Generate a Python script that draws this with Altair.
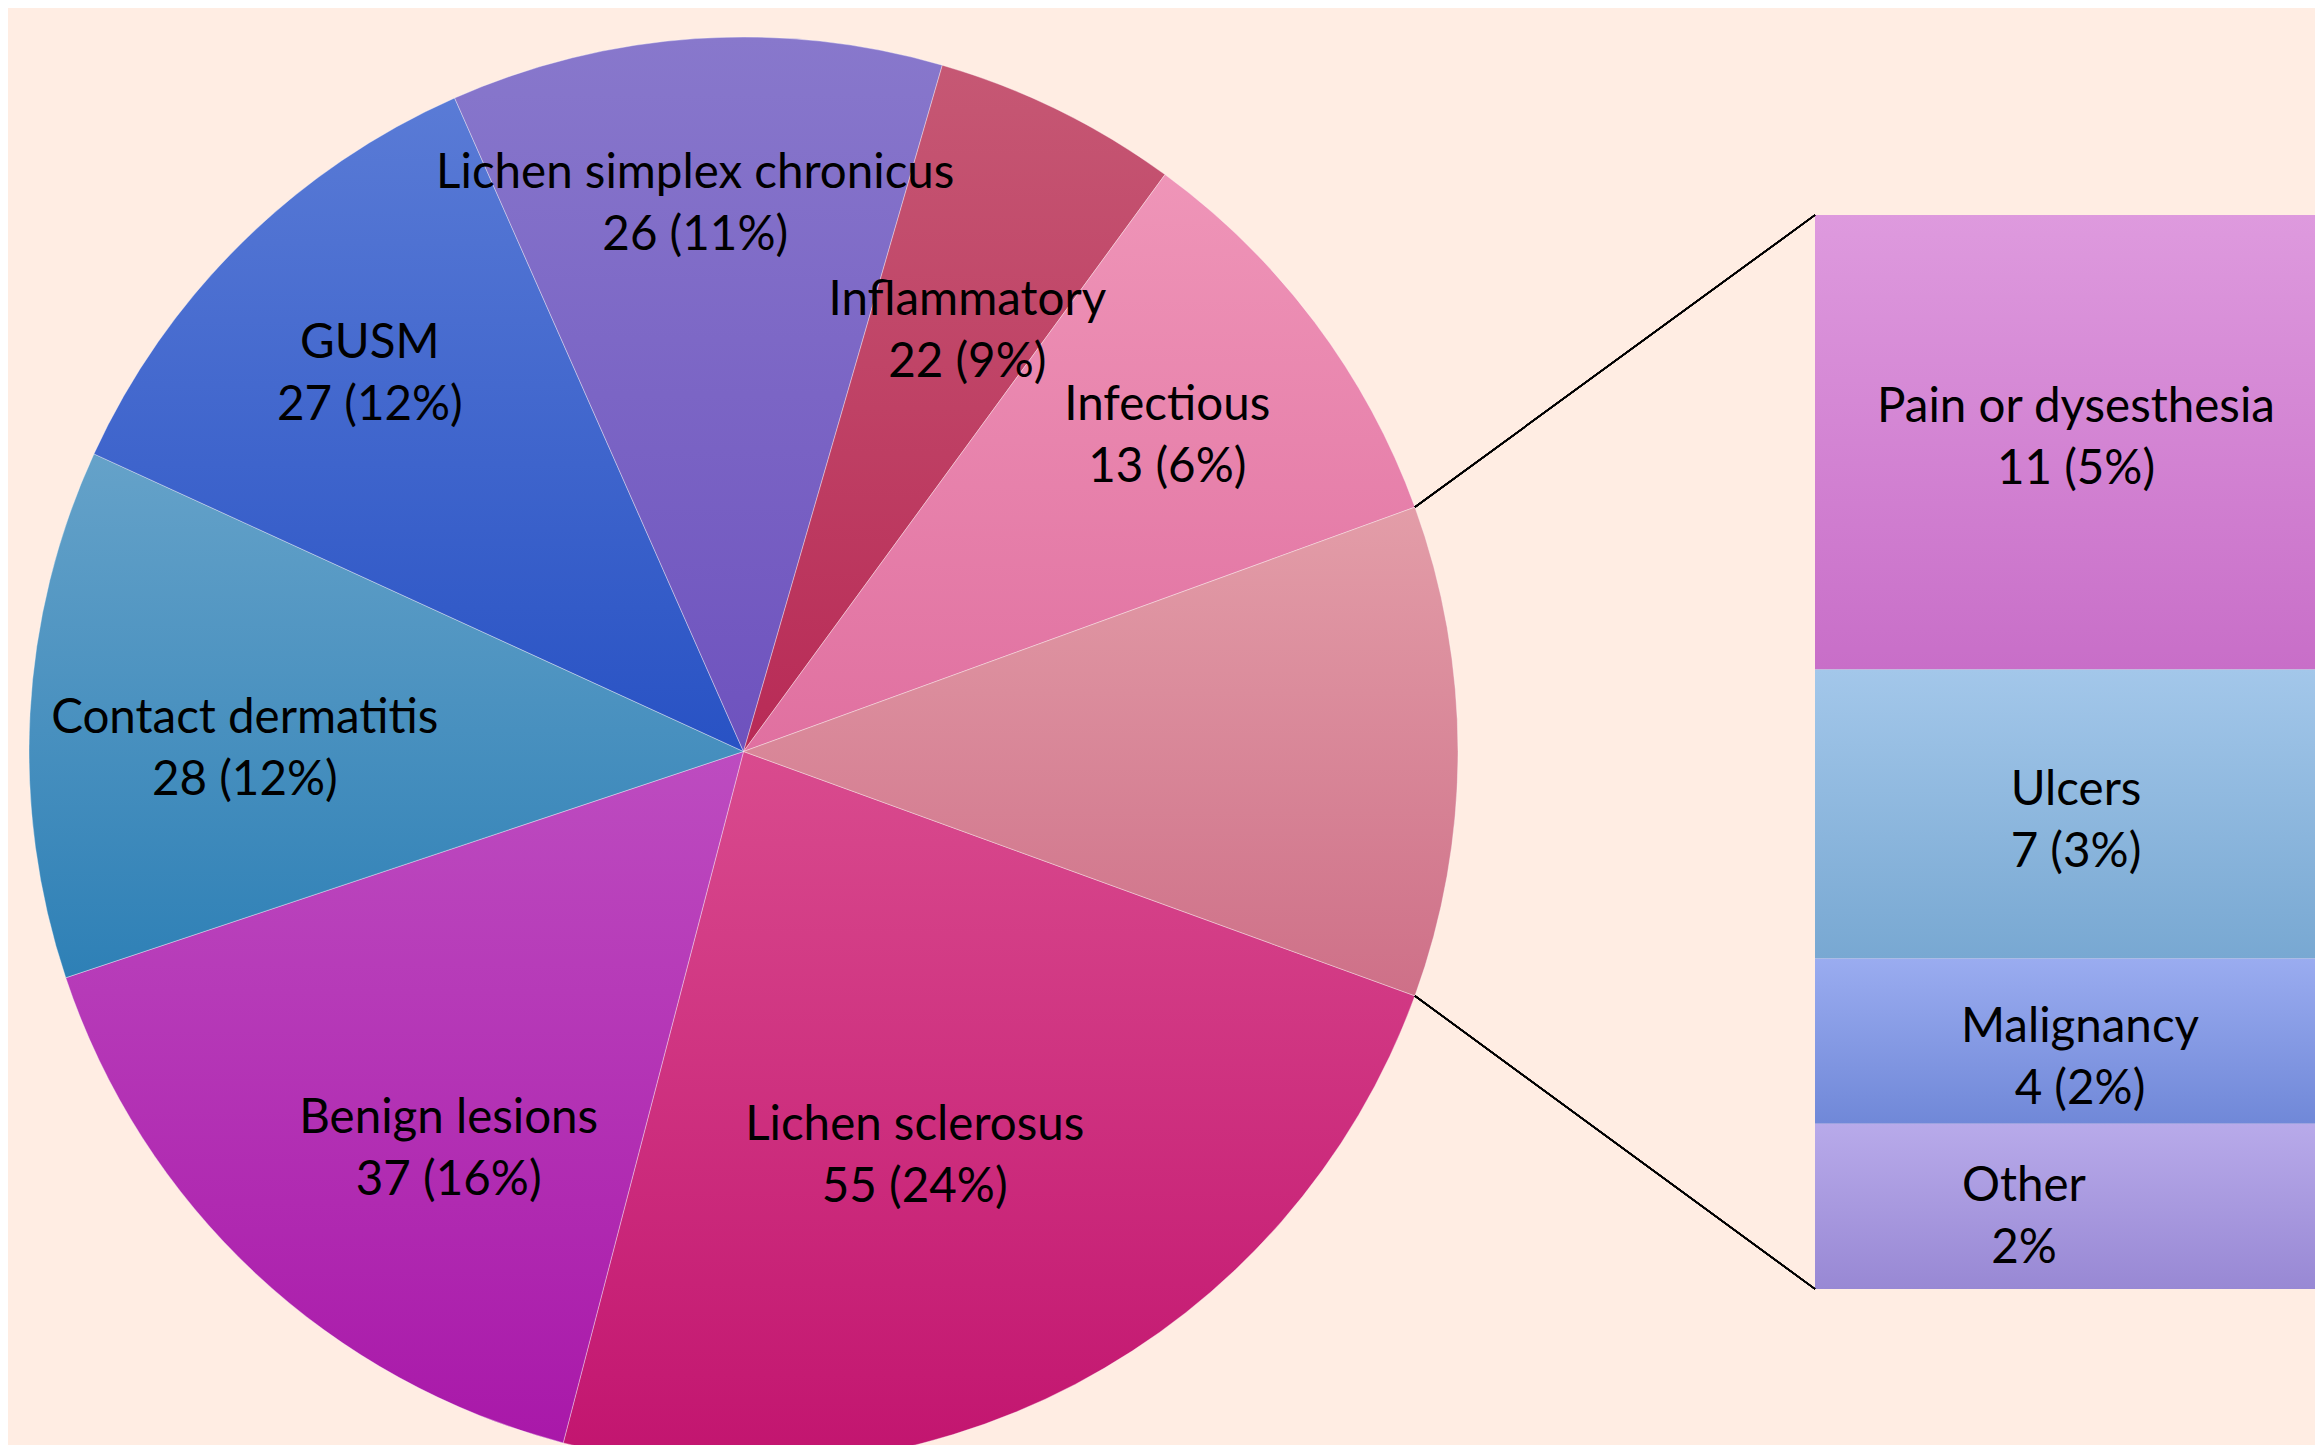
import math
import altair as alt
import pandas as pd

# ---------------- data ----------------
# slice sizes as drawn in the reference (clockwise from the "other" wedge)
pie_cats = ["Lichen sclerosus", "Benign lesions", "Contact dermatitis", "GUSM",
            "Lichen simplex chronicus", "Inflammatory", "Infectious", "Other diagnoses"]
pie_slice_sizes = [55, 37, 28, 27, 26, 13, 22, 26]
# data-label texts as printed in the reference
pie_label_values = ["55 (24%)", "37 (16%)", "28 (12%)", "27 (12%)", "26 (11%)",
                    "22 (9%)", "13 (6%)", ""]
pie_show = [True, True, True, True, True, True, True, False]

bar_cats = ["Pain or dysesthesia", "Ulcers", "Malignancy", "Other"]
bar_counts = [11, 7, 4, 4]
bar_value_labels = ["11 (5%)", "7 (3%)", "4 (2%)", "2%"]

# ---------------- style ----------------
pie_top = ["#D94B8E", "#BD4CC0", "#65A2C9", "#5A7BD6", "#8878CC", "#C65874", "#EF95B8", "#E39DA8"]
pie_bottom = ["#C2146F", "#A918A9", "#2E80B6", "#2852C4", "#6E52BE", "#B82A56", "#E070A0", "#CE7088"]
bar_top = ["#DE9ADE", "#A3C7EA", "#9AACF0", "#B8AAEA"]
bar_bottom = ["#C86EC8", "#78A8D2", "#7088D8", "#9888D4"]
label_r_frac = [0.616, 0.694, 0.698, 0.742, 0.768, 0.666, 0.739, 0.7]
label_nudge_deg = [4.8, -6.6, -2.9, -0.2, -1.2, 1.9, 0.3, 0.0]
bar_label_nudge = [0.07, -0.2, -0.43, -0.29]
bar_label_dx = [0, 0, 4, -52]

BG = "#FFEDE3"
FONT = "Lato"
FS = 47.5
LH = 62
W, H = 2307, 1437
CX, CY, R = 735.5, 743.5, 714.5
BAR_X0, BAR_X1 = 1807, 2330
BAR_TOP, BAR_BOTTOM = 207, 1281
BAR_TEXT_X = 2068

total = sum(pie_slice_sizes)
group = pie_slice_sizes[-1]
start = math.pi / 2 + math.pi * group / total
theta_scale = alt.Scale(domain=[0, total], range=[start, start + 2 * math.pi])


def grad(top, bottom):
    return {"gradient": "linear", "x1": 0, "y1": 0, "x2": 0, "y2": 1,
            "stops": [{"offset": 0, "color": top}, {"offset": 1, "color": bottom}]}


def cond_fill(field, cats, tops, bottoms):
    conds = [{"test": f"datum['{field}'] === '{c}'", "value": grad(t, b)}
             for c, t, b in zip(cats[:-1], tops[:-1], bottoms[:-1])]
    return alt.FillValue(value=grad(tops[-1], bottoms[-1]), condition=conds)


pie_df = pd.DataFrame({
    "cat": pie_cats,
    "size": pie_slice_sizes,
    "order": list(range(len(pie_cats))),
    "label": [[c, v] for c, v in zip(pie_cats, pie_label_values)],
    "show": pie_show,
    "lr": [f * R for f in label_r_frac],
    "nudge": [d / 360 * total for d in label_nudge_deg],
})

bar_df = pd.DataFrame({
    "cat": bar_cats,
    "count": bar_counts,
    "order": list(range(len(bar_cats))),
    "label": [[c, v] for c, v in zip(bar_cats, bar_value_labels)],
    "nudge": bar_label_nudge,
})

pie = alt.Chart(pie_df).mark_arc(outerRadius=R, stroke="#FFFFFF", strokeWidth=1,
                                 strokeOpacity=0.35).encode(
    theta=alt.Theta("size:Q", stack=True, scale=theta_scale),
    order=alt.Order("order:Q"),
    fill=cond_fill("cat", pie_cats, pie_top, pie_bottom),
    x=alt.value(CX),
    y=alt.value(CY),
)

pie_text = alt.Chart(pie_df).transform_window(
    cum="sum(size)", sort=[alt.SortField("order")], frame=[None, 0]
).transform_calculate(
    labpos="datum.cum - datum.size / 2 + datum.nudge"
).transform_filter("datum.show").mark_text(
    font=FONT, fontSize=FS, lineHeight=LH, align="center", baseline="middle",
    color="#000000", dy=-LH / 2
).encode(
    theta=alt.Theta("labpos:Q", stack=False, scale=theta_scale),
    radius=alt.Radius("lr:Q", scale=None),
    text="label",
    x=alt.value(CX),
    y=alt.value(CY),
)

bar_total = sum(bar_counts)
y_scale = alt.Scale(domain=[0, bar_total], range=[BAR_BOTTOM, BAR_TOP], nice=False, zero=False)

bar_base = alt.Chart(bar_df).transform_stack(
    stack="count", groupby=[], as_=["y0", "y1"], sort=[alt.SortField("order", order="descending")]
).transform_calculate(mid="(datum.y0 + datum.y1) / 2 + datum.nudge")

bar = bar_base.mark_rect().encode(
    y=alt.Y("y0:Q", scale=y_scale, axis=None),
    y2="y1:Q",
    x=alt.value(BAR_X0),
    x2=alt.value(BAR_X1),
    fill=cond_fill("cat", bar_cats, bar_top, bar_bottom),
)

bar_texts = []
for i, dx in enumerate(bar_label_dx):
    bar_texts.append(
        bar_base.transform_filter(f"datum.order === {i}").mark_text(
            font=FONT, fontSize=FS, lineHeight=LH, align="center", baseline="middle",
            color="#000000", dy=-LH / 2, dx=dx
        ).encode(
            y=alt.Y("mid:Q", scale=y_scale, axis=None),
            x=alt.value(BAR_TEXT_X),
            text="label",
        )
    )

a_top = start + 2 * math.pi * (total - group) / total
a_bot = start
rule_top = alt.Chart(pie_df).mark_rule(color="#000000", strokeWidth=1.4).encode(
    x=alt.value(CX + R * math.sin(a_top)), y=alt.value(CY - R * math.cos(a_top)),
    x2=alt.value(BAR_X0), y2=alt.value(BAR_TOP),
)
rule_bot = alt.Chart(pie_df).mark_rule(color="#000000", strokeWidth=1.4).encode(
    x=alt.value(CX + R * math.sin(a_bot)), y=alt.value(CY - R * math.cos(a_bot)),
    x2=alt.value(BAR_X0), y2=alt.value(BAR_BOTTOM),
)

chart = alt.layer(pie, pie_text, bar, *bar_texts, rule_top, rule_bot).properties(
    width=W, height=H, padding=0, autosize=alt.AutoSizeParams(type="none"),
    background=BG,
).configure_view(stroke=None)

chart.save("out.html", embed_options={"renderer": "svg", "actions": False})
